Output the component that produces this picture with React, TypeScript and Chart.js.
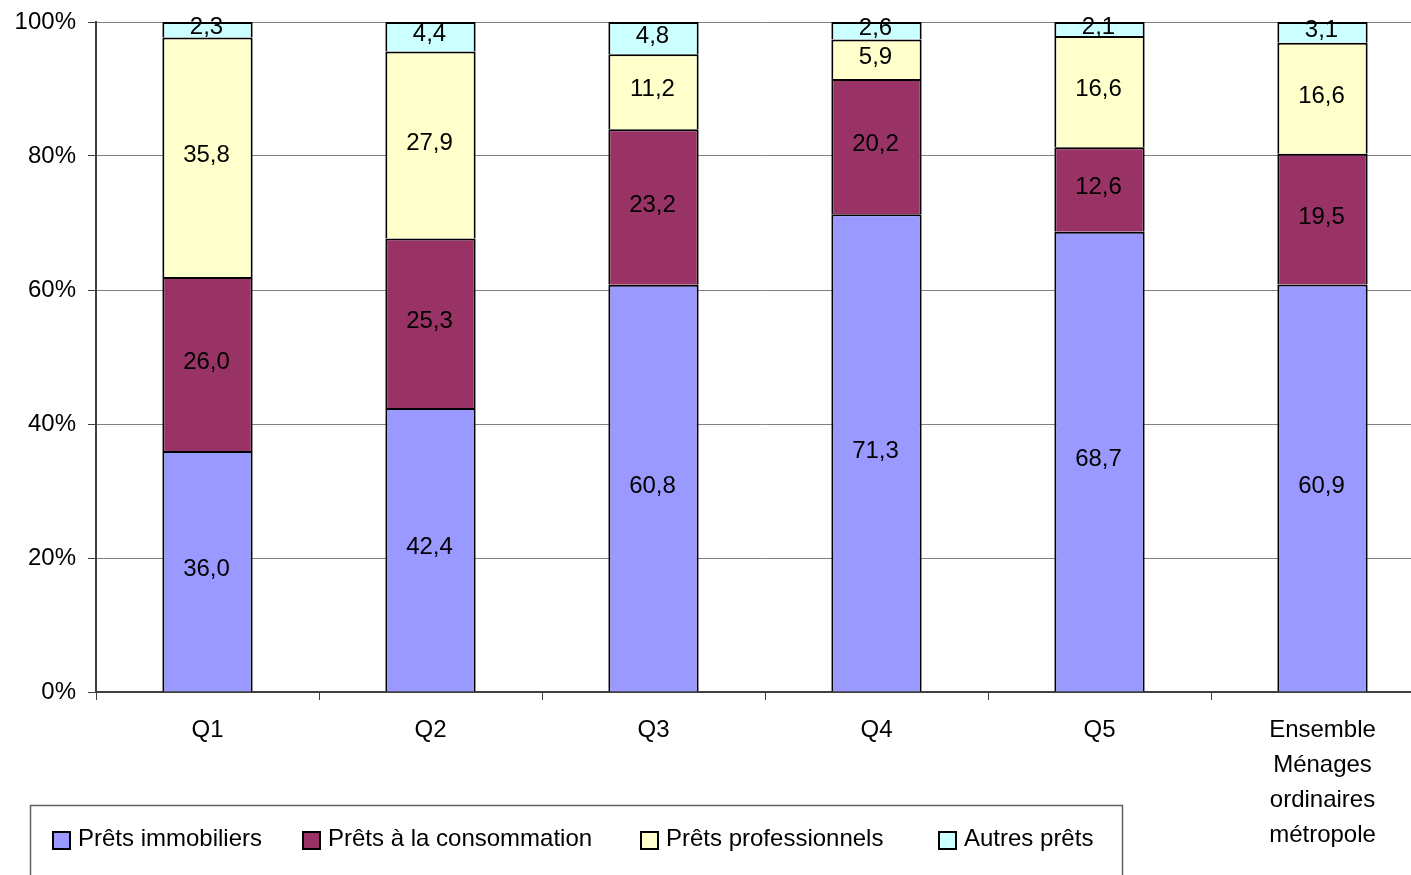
import React, { useEffect, useRef } from "react";
import { Chart, registerables } from "chart.js";

Chart.register(...registerables);

const categories: (string | string[])[] = ["Q1", "Q2", "Q3", "Q4", "Q5", ["Ensemble", "Ménages", "ordinaires", "métropole"]];
const seriesNames = ["Prêts immobiliers", "Prêts à la consommation", "Prêts professionnels", "Autres prêts"];
const immobiliers = [36.0, 42.4, 60.8, 71.3, 68.7, 60.9];
const consommation = [26.0, 25.3, 23.2, 20.2, 12.6, 19.5];
const professionnels = [35.8, 27.9, 11.2, 5.9, 16.6, 16.6];
const autres = [2.3, 4.4, 4.8, 2.6, 2.1, 3.1];
const colors = ["#9999FF", "#993366", "#FFFFCC", "#CCFFFF"];
const yTicks = [0, 20, 40, 60, 80, 100];

const FONT = "'Liberation Sans', Arial, sans-serif";
const W = 1434;
const H = 875;

const rawSeries = [immobiliers, consommation, professionnels, autres];
const totals = categories.map((_, i) => rawSeries.reduce((s, arr) => s + arr[i], 0));

const fmt = (v: number) => v.toFixed(1).replace(".", ",");

const dataLabelPlugin = {
  id: "dataLabels",
  afterDatasetsDraw(chart: any) {
    const ctx = chart.ctx;
    ctx.save();
    ctx.font = `24px ${FONT}`;
    ctx.fillStyle = "#000";
    ctx.textAlign = "center";
    ctx.textBaseline = "middle";
    chart.data.datasets.forEach((ds: any, di: number) => {
      const meta = chart.getDatasetMeta(di);
      meta.data.forEach((bar: any, i: number) => {
        const raw = rawSeries[di][i];
        const y = (bar.y + bar.base) / 2 - 2;
        ctx.fillText(fmt(raw), bar.x - 1, y);
      });
    });
    ctx.restore();
  },
};

const legendPlugin = {
  id: "boxLegend",
  afterDraw(chart: any) {
    const ctx = chart.ctx;
    ctx.save();
    ctx.strokeStyle = "#606060";
    ctx.lineWidth = 1.5;
    ctx.strokeRect(30.5, 805.5, 1092, 100);
    const xs = [53, 303, 641, 939];
    ctx.font = `24px ${FONT}`;
    ctx.textBaseline = "middle";
    ctx.textAlign = "left";
    seriesNames.forEach((name, i) => {
      const x = xs[i];
      ctx.fillStyle = colors[i];
      ctx.fillRect(x, 832, 17, 17);
      ctx.strokeStyle = "#000";
      ctx.lineWidth = 2;
      ctx.strokeRect(x, 832, 17, 17);
      ctx.fillStyle = "#000";
      ctx.fillText(name, x + 25, 839);
    });
    ctx.restore();
  },
};

export default function App() {
  const ref = useRef<HTMLCanvasElement | null>(null);
  useEffect(() => {
    if (!ref.current) return;
    const datasets = rawSeries.map((arr, di) => ({
      label: seriesNames[di],
      data: arr.map((v, i) => (v / totals[i]) * 100),
      backgroundColor: colors[di],
      borderColor: "#000",
      borderWidth: 2,
      inflateAmount: 0,
      barPercentage: 0.405,
      categoryPercentage: 1,
    }));
    const chart = new Chart(ref.current, {
      type: "bar",
      data: { labels: categories as any, datasets },
      options: {
        responsive: false,
        animation: false,
        events: [],
        layout: { padding: { top: 22, left: 0, right: 0, bottom: 0 } },
        plugins: { legend: { display: false }, tooltip: { enabled: false } },
        scales: {
          x: {
            stacked: true,
            afterFit: (s: any) => {
              s.height = H - 692;
            },
            grid: {
              display: true,
              drawOnChartArea: false,
              drawTicks: true,
              tickLength: 8,
              offset: true,
              color: "#404040",
            },
            border: { color: "#404040", width: 2 },
            ticks: {
              color: "#000",
              font: { family: FONT, size: 24, lineHeight: 1.46 },
              padding: 13,
              maxRotation: 0,
              autoSkip: false,
            },
          },
          y: {
            stacked: true,
            min: 0,
            max: 100,
            afterFit: (s: any) => {
              s.width = 96;
            },
            afterBuildTicks: (s: any) => {
              s.ticks = yTicks.map((v) => ({ value: v }));
            },
            grid: {
              color: "#808080",
              lineWidth: 1,
              tickLength: 8,
              tickColor: "#404040",
            },
            border: { color: "#404040", width: 2 },
            ticks: {
              color: "#000",
              font: { family: FONT, size: 24, lineHeight: 0.8 },
              padding: 12,
              callback: (v: any) => `${v}%`,
            },
          },
        },
      },
      plugins: [dataLabelPlugin, legendPlugin],
    });
    return () => chart.destroy();
  }, []);
  return (
    <div style={{ position: "fixed", left: 0, top: 0, width: 1411, height: 875, overflow: "hidden", background: "#fff" }}>
      <canvas ref={ref} width={W} height={H} style={{ width: W, height: H, display: "block" }} />
    </div>
  );
}
